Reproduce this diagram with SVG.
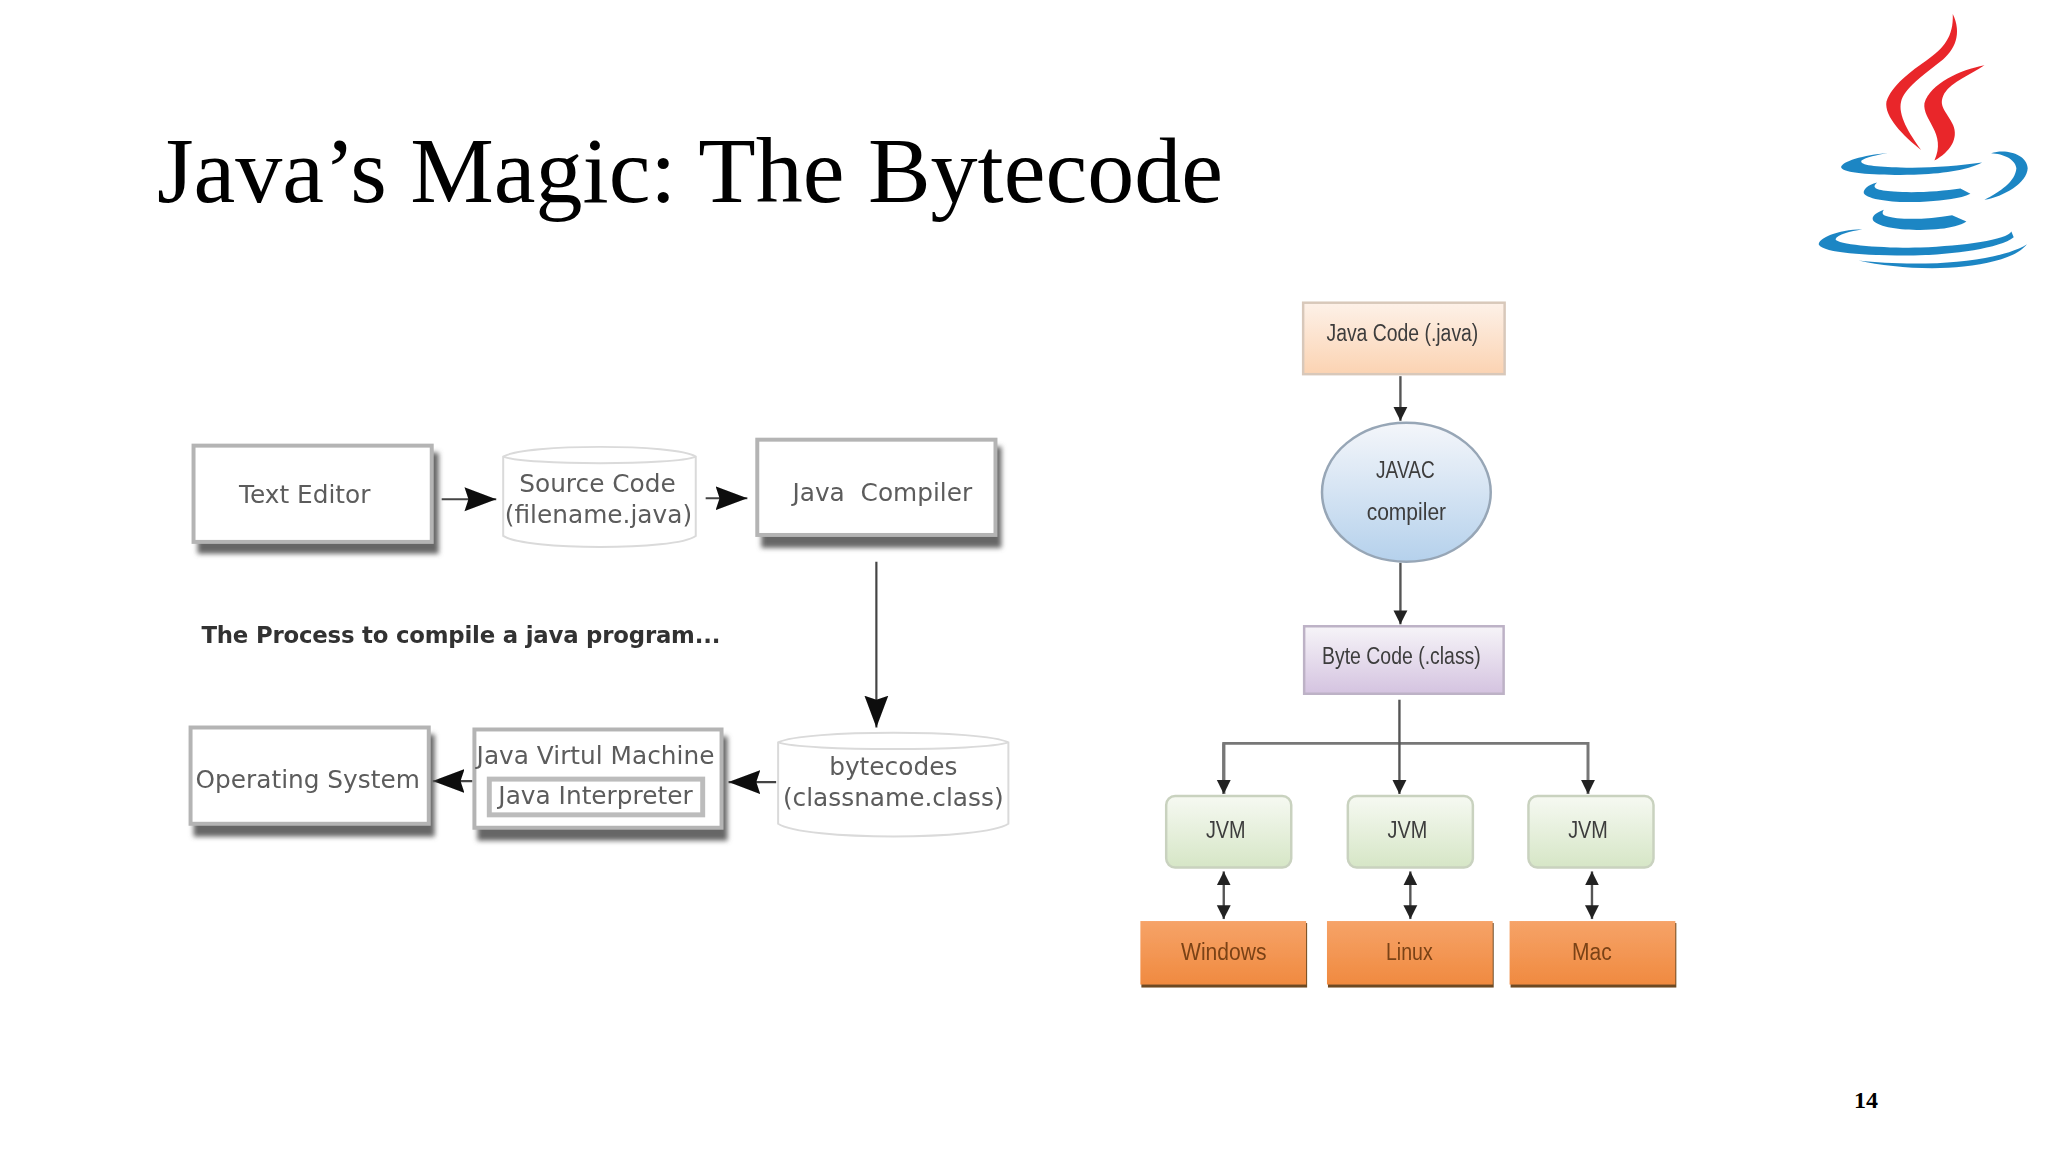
<svg xmlns="http://www.w3.org/2000/svg" width="2048" height="1152" viewBox="0 0 2048 1152">
<style>
.title{font-family:"Liberation Serif",serif;font-size:94px;fill:#000}
.page{font-family:"Liberation Serif",serif;font-size:24px;font-weight:bold;fill:#000}
.lt{font-family:"DejaVu Sans",sans-serif;font-size:25px;fill:#5c5c5c;text-anchor:middle;white-space:pre}
.ltb{font-family:"DejaVu Sans",sans-serif;font-size:23px;font-weight:bold;fill:#333;letter-spacing:-.2px}
.rt{font-family:"Liberation Sans",sans-serif;font-size:24px;text-anchor:middle;fill:#3c3c3c}
.box{fill:#fff;stroke:#b4b4b4;stroke-width:4}
.sh{fill:#666}
.cyl{fill:#fff;stroke:#dadada;stroke-width:2}
.lc{stroke:#444;stroke-width:2.2;fill:none}
.rc{stroke:#555;stroke-width:2.4;fill:none}
.rl{stroke:#777;stroke-width:3;fill:none}
.blue{fill:#1f86c4}
.red{fill:#e9252b}
</style>
<defs>
<filter id="b1" x="-10%" y="-10%" width="120%" height="120%"><feGaussianBlur stdDeviation="2.6"/></filter>
<filter id="b0" x="-5%" y="-5%" width="110%" height="110%"><feGaussianBlur stdDeviation="0.8"/></filter>
<filter id="bl" x="-5%" y="-5%" width="110%" height="110%"><feGaussianBlur stdDeviation="1.2"/></filter>
<marker id="big" markerUnits="userSpaceOnUse" markerWidth="34" markerHeight="30" refX="32" refY="15" orient="auto"><path d="M0 3L32 15L0 27L4 15Z" fill="#0c0c0c"/></marker>
<marker id="small" markerUnits="userSpaceOnUse" markerWidth="16" markerHeight="16" refX="14" refY="8" orient="auto-start-reverse"><path d="M0 1L14 8L0 15Z" fill="#222"/></marker>
<linearGradient id="gj" x1="0" y1="0" x2="0" y2="1"><stop offset="0" stop-color="#fdf1e8"/><stop offset="1" stop-color="#fbd3b2"/></linearGradient>
<linearGradient id="ge" x1="0" y1="0" x2="0" y2="1"><stop offset="0" stop-color="#f4f6fa"/><stop offset="1" stop-color="#b5d1ec"/></linearGradient>
<linearGradient id="gb" x1="0" y1="0" x2="0" y2="1"><stop offset="0" stop-color="#f6f4f8"/><stop offset="1" stop-color="#d4c3e0"/></linearGradient>
<linearGradient id="gv" x1="0" y1="0" x2="0" y2="1"><stop offset="0" stop-color="#f6f9f2"/><stop offset="1" stop-color="#d6e6c6"/></linearGradient>
<linearGradient id="go" x1="0" y1="0" x2="0" y2="1"><stop offset="0" stop-color="#f6a368"/><stop offset="1" stop-color="#f08a40"/></linearGradient>
</defs>
<rect width="2048" height="1152" fill="#fff"/>
<text class="title" x="157" y="202">Java’s Magic: The Bytecode</text>
<text class="page" x="1866" y="1108" text-anchor="middle">14</text>

<g transform="scale(.9925)">
<g id="logo" transform="translate(1794 0) scale(.3356)" filter="url(#bl)">
<path class="red" d="M517 42C520 110 490 145 440 180C390 215 335 255 318 305C310 350 370 410 422 450C385 400 352 345 362 305C372 265 430 225 480 185C525 150 545 100 517 42Z"/>
<path class="red" d="M612 196C540 210 450 250 432 310C425 360 500 400 462 482C510 455 535 415 518 375C500 335 470 320 492 280C515 245 570 225 612 196Z"/>
<path class="blue" d="M322 459C250 465 180 485 182 503C190 522 300 527 400 525C480 522 560 512 605 488C530 498 440 506 360 503C290 501 235 497 243 482C255 472 290 465 322 459Z"/>
<path class="blue" d="M632 460C680 445 740 465 742 505C740 550 670 590 612 600C660 575 705 545 708 505C705 478 670 462 632 460Z"/>
<path class="blue" d="M290 548C260 555 248 570 250 580C265 605 380 610 440 605C490 602 540 597 570 582L540 566C480 575 400 580 340 575C290 572 270 565 290 548Z"/>
<path class="blue" d="M310 630C285 640 272 650 278 662C300 690 420 695 480 687C510 684 540 677 558 665L515 646C460 655 400 660 350 655C310 650 300 645 310 630Z"/>
<path class="blue" d="M245 688C170 690 112 715 115 735C130 762 280 768 400 767C520 764 660 745 700 712L693 695C680 720 550 738 420 743C320 746 170 735 165 718C170 703 210 695 245 688Z"/>
<path class="blue" d="M235 782C320 802 450 812 550 800C640 790 710 770 740 733C690 765 580 785 470 790C380 793 300 790 235 782Z"/>
</g>

<g id="connectors" filter="url(#b0)">
<path class="lc" d="M445 503H500" marker-end="url(#big)"/>
<path class="lc" d="M711 502H753" marker-end="url(#big)"/>
<path class="lc" d="M883 566V733" marker-end="url(#big)"/>
<path class="lc" d="M782 788H734" marker-end="url(#big)"/>
<path class="lc" d="M476 787H436" marker-end="url(#big)"/>
<path class="rc" d="M1411 379V424" marker-end="url(#small)"/>
<path class="rc" d="M1411 567V629" marker-end="url(#small)"/>
<path class="rl" d="M1233 800V749H1600V800" marker-end="url(#small)"/>
<path class="rl" d="M1233 749V800" marker-end="url(#small)"/>
<path class="rc" d="M1410 705V800" marker-end="url(#small)"/>
<path class="rc" d="M1233 878V926" marker-start="url(#small)" marker-end="url(#small)"/>
<path class="rc" d="M1421 878V926" marker-start="url(#small)" marker-end="url(#small)"/>
<path class="rc" d="M1604 878V926" marker-start="url(#small)" marker-end="url(#small)"/>
</g>

<g id="text-editor" filter="url(#b0)">
<rect class="sh" x="199" y="456" width="243" height="102" filter="url(#b1)"/>
<rect class="box" x="195" y="449" width="240" height="97"/>
<text class="lt" x="307" y="507">Text Editor</text>
</g>
<g id="source-code" filter="url(#b0)">
<path class="cyl" d="M507 460C530 447 680 447 701 460V540C680 555 530 555 507 540Z"/>
<path class="cyl" d="M507 460C530 469 680 469 701 460" style="fill:none"/>
<text class="lt" x="602" y="496">Source Code</text>
<text class="lt" x="603" y="527">(filename.java)</text>
</g>
<g id="java-compiler" filter="url(#b0)">
<rect class="sh" x="767" y="450" width="242" height="102" filter="url(#b1)"/>
<rect class="box" x="763" y="443" width="240" height="96"/>
<text class="lt" x="889" y="505">Java  Compiler</text>
</g>
<text id="caption" class="ltb" x="203" y="648" filter="url(#b0)">The Process to compile a java program...</text>
<g id="operating-system" filter="url(#b0)">
<rect class="sh" x="195" y="740" width="243" height="103" filter="url(#b1)"/>
<rect class="box" x="192" y="733" width="240" height="97"/>
<text class="lt" x="310" y="794">Operating System</text>
</g>
<g id="jvm-box" filter="url(#b0)">
<rect class="sh" x="481" y="742" width="252" height="105" filter="url(#b1)"/>
<rect class="box" x="478" y="735" width="249" height="99"/>
<rect x="493" y="785" width="215" height="36" fill="#fff" stroke="#bcbcbc" stroke-width="5"/>
<text class="lt" x="600" y="770">Java Virtul Machine</text>
<text class="lt" x="600" y="810">Java Interpreter</text>
</g>
<g id="bytecodes" filter="url(#b0)">
<path class="cyl" d="M784 748C810 735 990 735 1016 748V830C990 847 810 847 784 830Z"/>
<path class="cyl" d="M784 748C810 757 990 757 1016 748" style="fill:none"/>
<text class="lt" x="900" y="781">bytecodes</text>
<text class="lt" x="900" y="812">(classname.class)</text>
</g>

<g id="java-code" filter="url(#b0)">
<rect x="1313" y="305" width="203" height="72" fill="url(#gj)" stroke="#d8c8ba" stroke-width="2.5"/>
<text class="rt" x="1413" y="344" textLength="153" lengthAdjust="spacingAndGlyphs">Java Code (.java)</text>
</g>
<g id="javac" filter="url(#b0)">
<ellipse cx="1417" cy="496" rx="85" ry="70" fill="url(#ge)" stroke="#97a6b6" stroke-width="2.5"/>
<text class="rt" x="1416" y="482" textLength="59" lengthAdjust="spacingAndGlyphs">JAVAC</text>
<text class="rt" x="1417" y="524" textLength="80" lengthAdjust="spacingAndGlyphs">compiler</text>
</g>
<g id="byte-code" filter="url(#b0)">
<rect x="1314" y="631" width="201" height="68" fill="url(#gb)" stroke="#bdb2c6" stroke-width="2.5"/>
<text class="rt" x="1412" y="669" textLength="160" lengthAdjust="spacingAndGlyphs">Byte Code (.class)</text>
</g>
<g id="jvm-1" filter="url(#b0)">
<rect x="1175" y="802" width="126" height="72" rx="9" fill="url(#gv)" stroke="#c9d2bf" stroke-width="2.5"/>
<text class="rt" x="1235" y="844" textLength="40" lengthAdjust="spacingAndGlyphs">JVM</text>
</g>
<g id="jvm-2" filter="url(#b0)">
<rect x="1358" y="802" width="126" height="72" rx="9" fill="url(#gv)" stroke="#c9d2bf" stroke-width="2.5"/>
<text class="rt" x="1418" y="844" textLength="40" lengthAdjust="spacingAndGlyphs">JVM</text>
</g>
<g id="jvm-3" filter="url(#b0)">
<rect x="1540" y="802" width="126" height="72" rx="9" fill="url(#gv)" stroke="#c9d2bf" stroke-width="2.5"/>
<text class="rt" x="1600" y="844" textLength="40" lengthAdjust="spacingAndGlyphs">JVM</text>
</g>
<g id="windows" filter="url(#b0)">
<rect x="1150" y="930" width="167" height="65" fill="#6d4a24"/>
<rect x="1149" y="928" width="167" height="64" fill="url(#go)"/>
<text class="rt" x="1233" y="967" textLength="86" lengthAdjust="spacingAndGlyphs" style="fill:#7a4216">Windows</text>
</g>
<g id="linux" filter="url(#b0)">
<rect x="1338" y="930" width="167" height="65" fill="#6d4a24"/>
<rect x="1337" y="928" width="167" height="64" fill="url(#go)"/>
<text class="rt" x="1420" y="967" textLength="47" lengthAdjust="spacingAndGlyphs" style="fill:#7a4216">Linux</text>
</g>
<g id="mac" filter="url(#b0)">
<rect x="1522" y="930" width="167" height="65" fill="#6d4a24"/>
<rect x="1521" y="928" width="167" height="64" fill="url(#go)"/>
<text class="rt" x="1604" y="967" textLength="40" lengthAdjust="spacingAndGlyphs" style="fill:#7a4216">Mac</text>
</g>
</g>
</svg>
